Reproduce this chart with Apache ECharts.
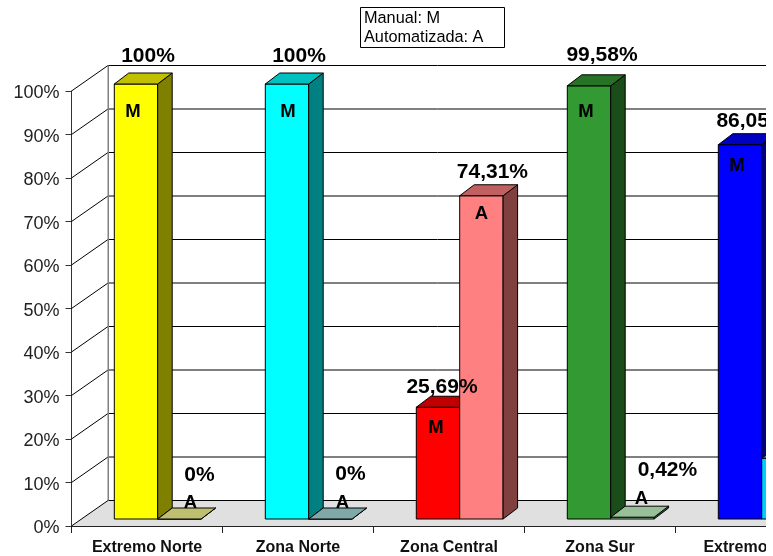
<!DOCTYPE html>
<html><head><meta charset="utf-8">
<style>html,body{margin:0;padding:0;background:#fff;overflow:hidden}#c{width:766px;height:556px}</style>
<script src="https://cdn.jsdelivr.net/npm/echarts@6/dist/echarts.min.js"></script>
</head><body><div id="c"></div>
<script>
// ---- data ----
const categories = ['Extremo Norte', 'Zona Norte', 'Zona Central', 'Zona Sur', 'Extremo Sur'];
const manualValues = [100, 100, 25.69, 99.58, 86.05];
const automatedValues = [0, 0, 74.31, 0.42, 13.95];
const yTicks = [0, 10, 20, 30, 40, 50, 60, 70, 80, 90, 100];
const legendLines = ['Manual: M', 'Automatizada: A'];

// ---- style ----
const manualColors = [
  ['#ffff00', '#c0c000', '#808000'], ['#00ffff', '#00c0c0', '#008080'], ['#ff0000', '#c00000', '#800000'],
  ['#339933', '#267326', '#1a4d1a'], ['#0000ff', '#0000c0', '#000080']];
const automatedColors = [
  ['#ffff80', '#bfbf70', '#808040'], ['#80ffff', '#7fa9a9', '#408080'], ['#ff8080', '#c06060', '#804040'],
  ['#99cc99', '#99bf99', '#4d664d'], ['#00ccff', '#0099c0', '#006680']];
// value-label and letter offsets per category, relative to the bar
const manualPlace = [
  {vx: 12, vy: -28, lx: -3, ly: 28}, {vx: 12, vy: -28, lx: 1, ly: 28}, {vx: 4, vy: -20, lx: -2, ly: 21},
  {vx: 13, vy: -31, lx: -3, ly: 26}, {vx: 12, vy: -23, lx: -3, ly: 21}];
const automatedPlace = [
  {vx: 20, vy: -44, lx: 11, ly: -16}, {vx: 20, vy: -45, lx: 12, ly: -16}, {vx: 11, vy: -24, lx: 0, ly: 18},
  {vx: 35, vy: -47, lx: 9, ly: -18}, {vx: 60, vy: -19, lx: 0, ly: 18}];
const FONT = '"Liberation Sans", Arial, sans-serif';
const BAR_W = 43.4, BAR_DX = 14.5, BAR_DY = 11, PLANE_DY = 7;
const WALL_DX = 36.5, WALL_DY = 25.5;

function fmt(v) { return String(v).replace('.', ',') + '%'; }

function poly(points, fill) {
  return {type: 'polygon', shape: {points}, style: {fill, stroke: '#000', lineWidth: 1}};
}
function barRender(values, colors, place, letter, startOffset) {
  return function (params, api) {
    const i = api.value(0), v = api.value(1);
    const cx = api.coord([i, 0])[0];
    const y0 = api.coord([i, 0])[1] - PLANE_DY;
    const y1 = api.coord([i, v])[1] - PLANE_DY;
    const x0 = cx + startOffset, x1 = x0 + BAR_W;
    const [front, top, side] = colors[i];
    const p = place[i];
    const text = (t, x, y, size, z2) => ({type: 'text', z2,
      style: {text: t, x, y, fill: '#000', align: 'center', verticalAlign: 'middle',
              font: 'bold ' + size + 'px ' + FONT}});
    const midX = (x0 + x1) / 2;
    return {type: 'group', children: [
      poly([[x0, y0], [x1, y0], [x1, y1], [x0, y1]], front),
      poly([[x1, y0], [x1 + BAR_DX, y0 - BAR_DY], [x1 + BAR_DX, y1 - BAR_DY], [x1, y1]], side),
      poly([[x0, y1], [x1, y1], [x1 + BAR_DX, y1 - BAR_DY], [x0 + BAR_DX, y1 - BAR_DY]], top),
      text(letter, midX + p.lx, y1 + p.ly, 18.5, 20),
      text(fmt(v), midX + p.vx, y1 + p.vy, 21, 20)
    ]};
  };
}

const chart = echarts.init(document.getElementById('c'), null, {renderer: 'canvas'});
chart.setOption({
  animation: false,
  backgroundColor: '#fff',
  grid: {left: 71.5, top: 91, width: 755, height: 435, outerBoundsMode: 'none'},
  xAxis: {
    type: 'category', data: categories,
    axisLine: {lineStyle: {color: '#222', width: 1}},
    axisTick: {show: true, alignWithLabel: false, length: 7, lineStyle: {color: '#222'}},
    axisLabel: {color: '#111', fontFamily: FONT, fontWeight: 'bold', fontSize: 16, margin: 14, interval: 0}
  },
  yAxis: {
    type: 'value', min: 0, max: 100, interval: 10,
    axisLine: {show: true, lineStyle: {color: '#333', width: 1}},
    axisTick: {show: true, length: 6, lineStyle: {color: '#333'}},
    splitLine: {show: false},
    axisLabel: {color: '#222', fontFamily: FONT, fontSize: 18, margin: 12, verticalAlign: 'top', lineHeight: 5, formatter: '{value}%'}
  },
  graphic: [
    {type: 'rect', left: 360, top: 7, z: 50, shape: {width: 144, height: 40},
     style: {fill: '#fff', stroke: '#000', lineWidth: 1}},
    {type: 'text', left: 364, top: 9, z: 51,
     style: {text: legendLines.join('\n'), fill: '#000', font: '16.3px ' + FONT, lineHeight: 19}}
  ],
  series: [
    { // floor
      type: 'custom', coordinateSystem: 'cartesian2d', z: 1, silent: true,
      data: [[0, 0]],
      renderItem(params, api) {
        const c = params.coordSys, o = api.coord([0, 0]);
        const xL = c.x, xR = c.x + c.width, y = o[1];
        return {type: 'polygon', shape: {points: [[xL, y], [xL + WALL_DX, y - WALL_DY], [xR, y - WALL_DY], [xR, y]]},
                style: {fill: '#e0e0e0'}};
      }
    },
    { // walls and grid lines
      type: 'custom', coordinateSystem: 'cartesian2d', z: 2, silent: true,
      data: yTicks.map(t => [0, t]),
      renderItem(params, api) {
        const c = params.coordSys, y = api.coord([0, api.value(1)])[1];
        const line = (x1, y1, x2, y2, color) => ({type: 'line', shape: {x1, y1, x2, y2},
          style: {stroke: color, lineWidth: 1}});
        const xB = c.x + WALL_DX, yB = y - WALL_DY;
        const kids = [line(c.x, y, xB, yB, '#000'), line(xB, yB, c.x + c.width, yB, '#000')];
        if (api.value(1) === 100) kids.push(line(xB, yB, xB, c.y + c.height - WALL_DY, '#808080'),
                                             line(xB + 0.5, yB, xB + 0.5, c.y + c.height - WALL_DY, '#808080'));
        return {type: 'group', children: kids};
      }
    },
    {
      name: 'Manual', type: 'custom', coordinateSystem: 'cartesian2d', z: 3,
      data: manualValues.map((v, i) => [i, v]),
      renderItem: barRender(manualValues, manualColors, manualPlace, 'M', -32.7)
    },
    {
      name: 'Automatizada', type: 'custom', coordinateSystem: 'cartesian2d', z: 3,
      data: automatedValues.map((v, i) => [i, v]),
      renderItem: barRender(automatedValues, automatedColors, automatedPlace, 'A', 10.7)
    }
  ]
});
</script></body></html>
